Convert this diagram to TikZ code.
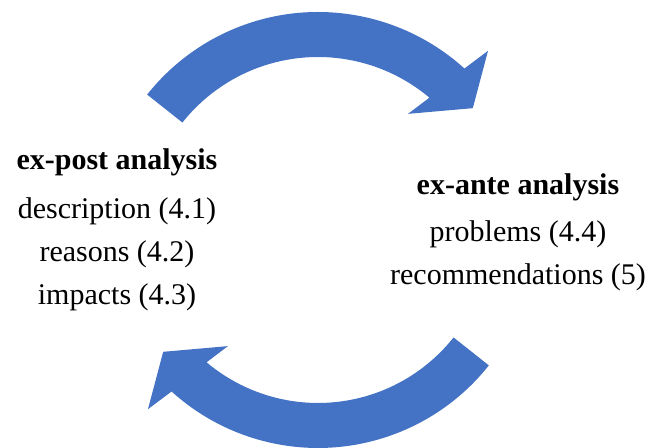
\documentclass[tikz,border=0pt]{standalone}
\usepackage{fontspec}
\setmainfont{Liberation Serif}
\definecolor{cycleblue}{HTML}{4472C4}
\tikzset{
  cyclearrow/.style={fill=cycleblue,draw=none},
  stagetext/.style={align=center,font=\fontsize{15}{21.5}\selectfont}
}
\begin{document}
\begin{tikzpicture}[x=0.5pt,y=0.5pt]
  \useasboundingbox (0,0) rectangle (645,448);

  % the two curved arrows, one turned by 180 degrees
  \foreach \rot in {0,180}
    \fill[cyclearrow,shift={(318,218)},rotate=\rot]
      (141.6:218) arc[start angle=141.6,end angle=47.8,radius=109pt]
      -- (46.5:247) -- (38.2:197) -- (52.2:147) -- (49.9:173)
      arc[start angle=49.9,end angle=141.6,radius=86.5pt] -- cycle;

  \node[stagetext] (expost) at (117,218)
    {\textbf{ex-post analysis}\\[3pt]description (4.1)\\reasons (4.2)\\impacts (4.3)};
  \node[stagetext] (exante) at (518,216)
    {\textbf{ex-ante analysis}\\[2pt]problems (4.4)\\recommendations (5)};

\end{tikzpicture}
\end{document}
